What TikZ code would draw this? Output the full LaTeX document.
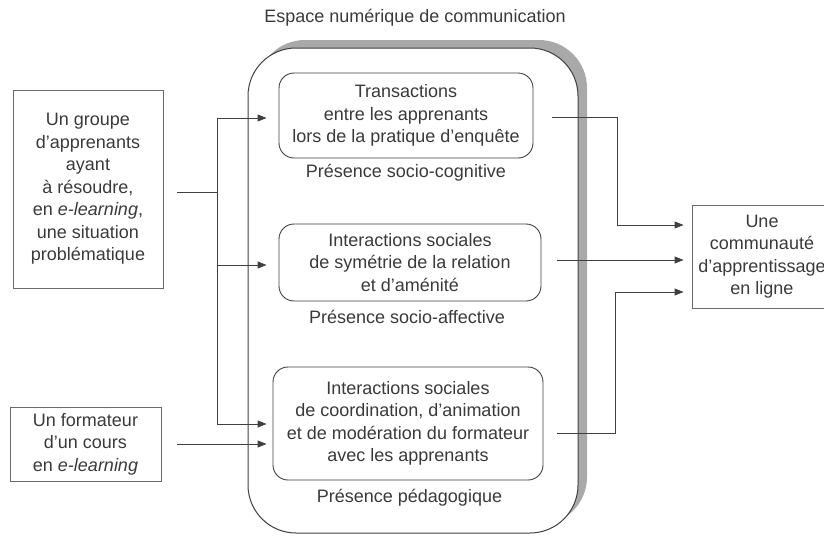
\documentclass[tikz,border=0pt]{standalone}
\usepackage{fontspec}
\setmainfont{Liberation Sans}
\usetikzlibrary{arrows.meta}
\definecolor{txt}{HTML}{3A3A3A}
\definecolor{ln}{HTML}{404040}
\definecolor{bx}{HTML}{6A6A6A}
\definecolor{shd}{HTML}{A9A9A9}
\begin{document}
\begin{tikzpicture}[x=1pt,y=-1pt,
  every node/.style={text=txt, font=\fontsize{18}{22.5}\selectfont},
  plainbox/.style={draw=bx, line width=0.9pt, inner sep=0pt, align=center},
  roundbox/.style={draw=ln, line width=0.9pt, rounded corners=15pt, inner sep=0pt, align=center},
  lbl/.style={inner sep=0pt},
  conn/.style={draw=ln, line width=0.9pt},
  arr/.style={conn, -{Triangle[length=9pt,width=7pt]}}]
\useasboundingbox (0,0) rectangle (824,536);
\clip (0,0) rectangle (824,536);
% title
\node[lbl] (title) at (415,18) {Espace numérique de communication};
% shadow and big box
\fill[shd, rounded corners=48pt] (257,40) rectangle (587,525);
\node[draw=ln, line width=1pt, fill=white, rounded corners=48pt,
      minimum width=330pt, minimum height=485pt, inner sep=0pt] (espace) at (413,290.5) {};
% inner boxes
\node[roundbox, minimum width=254pt, minimum height=85pt] (t1) at (406,115.5)
  {Transactions\\entre les apprenants\\lors de la pratique d’enquête};
\node[roundbox, minimum width=262pt, minimum height=77pt] (t2) at (410,262.5)
  {Interactions sociales\\de symétrie de la relation\\et d’aménité};
\node[roundbox, minimum width=270pt, minimum height=113pt] (t3) at (408,423.5)
  {Interactions sociales\\de coordination, d’animation\\et de modération du formateur\\avec les apprenants};
\node[lbl] (l1) at (406,173) {Présence socio-cognitive};
\node[lbl] (l2) at (407,317) {Présence socio-affective};
\node[lbl] (l3) at (409.5,498) {Présence pédagogique};
% left boxes
\node[plainbox, minimum width=150pt, minimum height=198pt] (grp) at (88,189)
  {Un groupe\\d’apprenants\\ayant\\à résoudre,\\en \textit{e-learning},\\une situation\\problématique};
\node[plainbox, minimum width=151pt, minimum height=74pt] (form) at (85.5,444)
  {Un formateur\\d’un cours\\en \textit{e-learning}};
% right box
\node[plainbox, minimum width=140pt, minimum height=103pt] (comm) at (762,256.5)
  {Une\\communauté\\d’apprentissage\\en ligne};
% left connectors
\coordinate (bt) at (217,118);
\coordinate (bm) at (217,192);
\coordinate (bm2) at (217,265);
\coordinate (bb) at (217,424);
\draw[conn] (bt) -- (bb);
\draw[conn, shorten <=14pt] (grp.east |- bm) -- (bm);
\draw[arr] (bt) -- ([xshift=-12pt]t1.west |- bt);
\draw[arr] (bm2) -- ([xshift=-12pt]t2.west |- bm2);
\draw[arr] (bb) -- ([xshift=-6pt]t3.west |- bb);
\draw[arr, shorten <=16pt] (form.east) -- ([xshift=-6pt]t3.west |- form.east);
% right connectors
\coordinate (r1) at (617,225);
\coordinate (r2) at (557,260);
\coordinate (r3) at (615,292);
\draw[conn, shorten <=19pt] ([yshift=-1.5pt]t1.east) -| (r1);
\draw[arr] (r1) -- ([xshift=-8pt]comm.west |- r1);
\draw[arr] (r2) -- ([xshift=-8pt]comm.west |- r2);
\draw[conn, shorten <=14pt] ([yshift=-9.5pt]t3.east) -| (r3);
\draw[arr] (r3) -- ([xshift=-8pt]comm.west |- r3);
\end{tikzpicture}
\end{document}
